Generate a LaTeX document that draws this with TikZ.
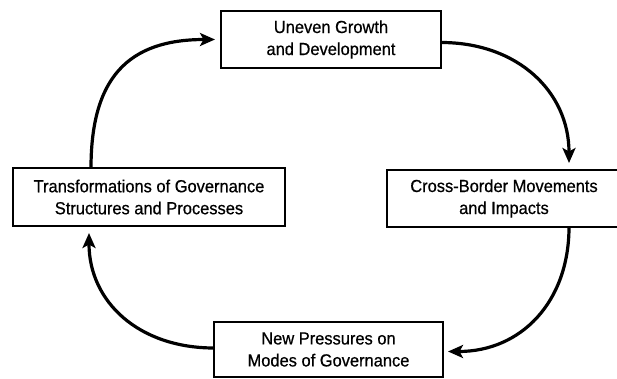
\documentclass[tikz,border=0pt]{standalone}
\usepackage{fontspec}
\setmainfont[FakeBold=0.6,FakeStretch=0.94]{Liberation Sans}
\usetikzlibrary{arrows.meta}
\begin{document}
\begin{tikzpicture}[x=1pt,y=-1pt,
  box/.style={draw, line width=1.4pt, inner sep=0pt, outer sep=0pt, align=center,
    font=\fontsize{17.5}{22}\selectfont},
  flow/.style={line width=3.2pt, -{Stealth[length=15pt,width=13pt,inset=3.5pt]}}]
\useasboundingbox (0,0) rectangle (617,379);
\node[box, minimum width=220pt, minimum height=57pt] (top) at (331,39.5) {Uneven Growth\\and Development};
\node[box, minimum width=272pt, minimum height=58pt] (left) at (149,197) {Transformations of Governance\\Structures and Processes};
\node[box, minimum width=234pt, minimum height=57pt] (right) at (504,198.5) {Cross-Border Movements\\and Impacts};
\node[box, minimum width=229pt, minimum height=55pt] (bottom) at (328.5,349.5) {New Pressures on\\Modes of Governance};
\draw[flow] ([xshift=-58pt]left.north) .. controls +(0,-90) and +(-87,0) .. ([xshift=-6pt]top.west);
\draw[flow] ([yshift=-3pt]top.east) .. controls +(77,0) and +(0,-71) .. ([xshift=65pt,yshift=7pt]right.north);
\draw[flow] ([xshift=65pt]right.south) .. controls +(0,75) and +(73,0) .. ([xshift=5pt,yshift=-2pt]bottom.east);
\draw[flow] ([yshift=1.5pt]bottom.west) .. controls +(-75,0) and +(0,69) .. ([xshift=-60pt,yshift=-7pt]left.south);
\end{tikzpicture}
\end{document}
